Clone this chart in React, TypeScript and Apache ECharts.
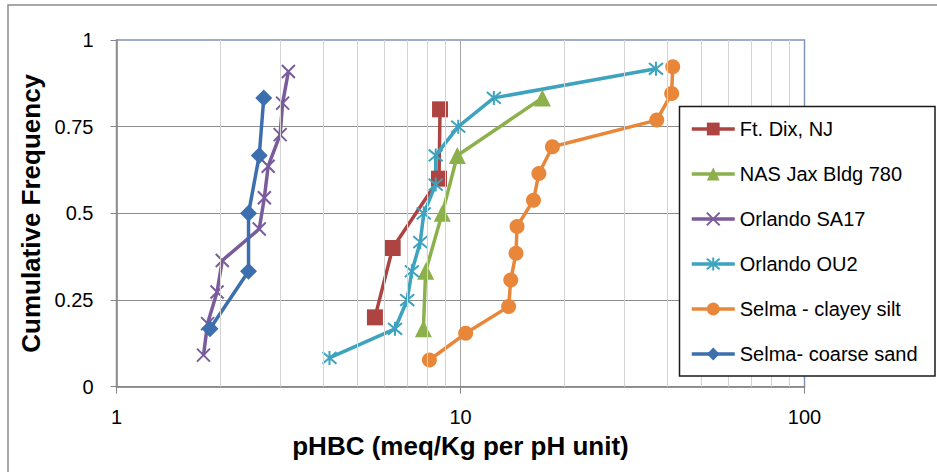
import React, { useEffect, useRef } from "react";
import * as echarts from "echarts";

// ---- Data ----
const ftDixX = [5.64, 6.35, 8.66, 8.72];
const ftDixY = [0.2, 0.4, 0.6, 0.8];

const nasJaxX = [7.8, 7.92, 8.85, 9.79, 17.3];
const nasJaxY = [0.167, 0.333, 0.5, 0.667, 0.833];

const orlandoSA17X = [1.79, 1.84, 1.96, 2.03, 2.6, 2.69, 2.76, 2.99, 3.04, 3.16];
const orlandoSA17Y = [0.091, 0.182, 0.273, 0.364, 0.455, 0.545, 0.636, 0.727, 0.818, 0.909];

const orlandoOU2X = [4.16, 6.45, 7.0, 7.22, 7.64, 7.82, 8.47, 8.47, 9.85, 12.5, 37.0];
const orlandoOU2Y = [0.083, 0.167, 0.25, 0.333, 0.417, 0.5, 0.583, 0.667, 0.75, 0.833, 0.917];

const selmaClayX = [8.12, 10.35, 13.8, 14.0, 14.5, 14.6, 16.3, 16.9, 18.5, 37.2, 41.1, 41.4];
const selmaClayY = [0.077, 0.154, 0.231, 0.308, 0.385, 0.462, 0.538, 0.615, 0.692, 0.769, 0.846, 0.923];

const selmaSandX = [1.87, 2.42, 2.42, 2.6, 2.68];
const selmaSandY = [0.167, 0.333, 0.5, 0.667, 0.833];

const seriesNames = [
  "Ft. Dix, NJ",
  "NAS Jax Bldg 780",
  "Orlando SA17",
  "Orlando OU2",
  "Selma - clayey silt",
  "Selma- coarse sand",
];

const minorGridValues = [2, 3, 4, 5, 6, 7, 8, 9, 20, 30, 40, 50, 60, 70, 80, 90];

const yTicks = { min: 0, max: 1, interval: 0.25 };

const FONT = "'Liberation Sans', Arial, sans-serif";

const X_PATH = "path://M0,0L10,10M10,0L0,10";
const STAR_PATH = "path://M0,0L10,10M10,0L0,10M5,-1L5,11";

function pairs(xs: number[], ys: number[]) {
  return xs.map((x, i) => [x, ys[i]]);
}

function makeSeries(
  name: string,
  xs: number[],
  ys: number[],
  color: string,
  symbol: string,
  symbolSize: number,
  strokeOnly: boolean
) {
  return {
    name,
    type: "line",
    data: pairs(xs, ys),
    color,
    symbol,
    symbolSize,
    showSymbol: true,
    showAllSymbol: true,
    z: 3,
    lineStyle: { color, width: 3.5 },
    itemStyle: strokeOnly
      ? { color, borderColor: color, borderWidth: 2 }
      : { color, borderColor: color, borderWidth: 0 },
    emphasis: { disabled: true },
  };
}

export default function App() {
  const ref = useRef<HTMLDivElement>(null);

  useEffect(() => {
    if (!ref.current) return;
    const chart = echarts.init(ref.current, undefined, { renderer: "svg" });

    const colors = ["#AD4441", "#8BB04C", "#7A5B9B", "#3DA3BF", "#E8873A", "#3D6FAE"];

    const option: any = {
      animation: false,
      textStyle: { fontFamily: FONT },
      grid: {
        left: 116.5,
        right: 937 - 804.5,
        top: 40,
        bottom: 472 - 386.7,
        show: true,
        borderColor: "#7F94B7",
        borderWidth: 1.5,
        backgroundColor: "transparent",
      },
      xAxis: {
        type: "log",
        logBase: 10,
        min: 1,
        max: 100,
        name: "pHBC (meq/Kg per pH unit)",
        nameLocation: "middle",
        nameGap: 46,
        nameTextStyle: { fontSize: 26, fontWeight: "bold", color: "#000", fontFamily: FONT },
        axisLine: { show: true, lineStyle: { color: "#868686", width: 1.5 } },
        axisTick: { show: true, inside: false, length: 7, lineStyle: { color: "#868686" } },
        axisLabel: { fontSize: 20, color: "#000", margin: 20, fontFamily: FONT },
        splitLine: {
          show: true,
          showMaxLine: false,
          lineStyle: { color: "#A6A6A6", width: 1 },
        },
      },
      yAxis: {
        type: "value",
        min: yTicks.min,
        max: yTicks.max,
        interval: yTicks.interval,
        name: "Cumulative Frequency",
        nameLocation: "middle",
        nameGap: 72,
        nameRotate: 90,
        nameTextStyle: { fontSize: 26, fontWeight: "bold", color: "#000", fontFamily: FONT },
        axisLine: { show: true, lineStyle: { color: "#868686", width: 1.5 } },
        axisTick: { show: true, inside: false, length: 6, lineStyle: { color: "#868686" } },
        axisLabel: { fontSize: 20, color: "#000", margin: 23, fontFamily: FONT },
        splitLine: {
          show: true,
          showMaxLine: false,
          lineStyle: { color: "#8C8C8C", width: 1 },
        },
      },
      legend: {
        show: true,
        orient: "vertical",
        left: 690,
        top: 117,
        z: 20,
        itemWidth: 43,
        itemHeight: 16,
        itemGap: 21,
        padding: 0,
        selectedMode: false,
        textStyle: { fontSize: 20, lineHeight: 24, color: "#000", fontFamily: FONT },
        lineStyle: { width: 3.5 },
        data: seriesNames.map((n) => ({ name: n })),
      },
      graphic: [
        {
          type: "rect",
          z: 0,
          silent: true,
          shape: { x: 8, y: 5, width: 1000, height: 1000 },
          style: { fill: "none", stroke: "#8C8C8C", lineWidth: 1.5 },
        },
        {
          type: "rect",
          z: 10,
          silent: true,
          shape: { x: 679.5, y: 106.5, width: 255.5, height: 269.5 },
          style: { fill: "#FFFFFF", stroke: "#1A1A1A", lineWidth: 1.5 },
        },
      ],
      series: [
        {
          name: "minor-grid",
          type: "line",
          data: [],
          z: 1,
          silent: true,
          markLine: {
            silent: true,
            symbol: ["none", "none"],
            label: { show: false },
            lineStyle: { color: "#D4D4D4", width: 1, type: "solid" },
            emphasis: { disabled: true },
            data: minorGridValues.map((v) => ({ xAxis: v })),
          },
        },
        makeSeries(seriesNames[0], ftDixX, ftDixY, colors[0], "rect", 16, false),
        makeSeries(seriesNames[1], nasJaxX, nasJaxY, colors[1], "triangle", 17, false),
        makeSeries(seriesNames[2], orlandoSA17X, orlandoSA17Y, colors[2], X_PATH, 13, true),
        makeSeries(seriesNames[3], orlandoOU2X, orlandoOU2Y, colors[3], STAR_PATH, 14, true),
        makeSeries(seriesNames[4], selmaClayX, selmaClayY, colors[4], "circle", 15, false),
        makeSeries(seriesNames[5], selmaSandX, selmaSandY, colors[5], "diamond", 17, false),
      ],
    };

    chart.setOption(option);
    return () => {
      chart.dispose();
    };
  }, []);

  return (
    <div
      ref={ref}
      style={{ position: "fixed", left: 0, top: 0, width: 937, height: 472, background: "#fff" }}
    />
  );
}
